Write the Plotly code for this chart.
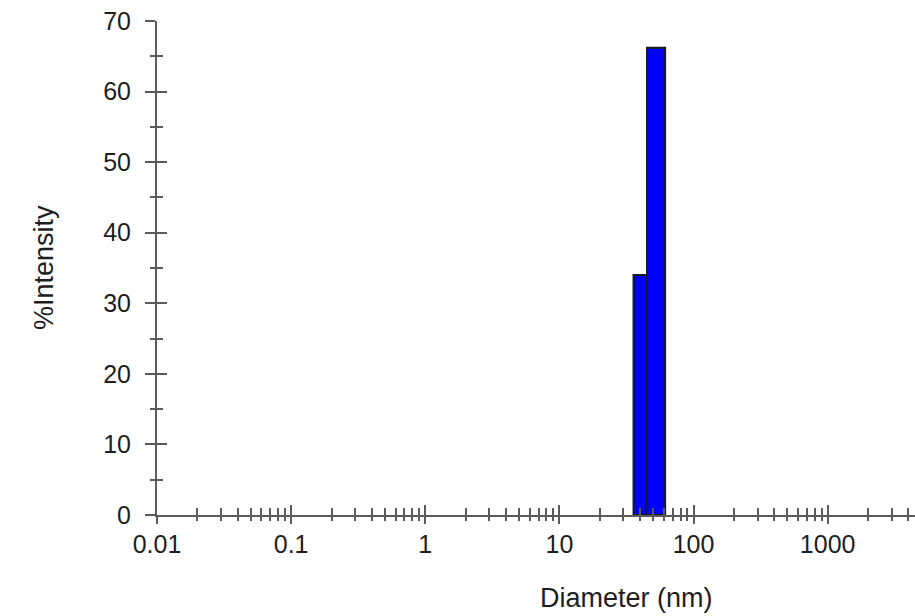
import plotly.graph_objects as go

# Data
bin_left = [35.7, 45.0]      # nm
bin_right = [45.0, 61.4]     # nm
intensity = [34.0, 66.2]     # %

x_tickvals = [0.01, 0.1, 1, 10, 100, 1000]
x_ticktext = ["0.01", "0.1", "1", "10", "100", "1000"]
y_tickvals = [0, 10, 20, 30, 40, 50, 60, 70]

FONT = "Liberation Sans, Arial, sans-serif"
TXT = "#1e1e1e"
AX = "#5a5a5a"

fig = go.Figure()
for l, r, v in zip(bin_left, bin_right, intensity):
    fig.add_trace(go.Scatter(
        x=[l, l, r, r, l], y=[0, v, v, 0, 0],
        mode="lines", fill="toself", fillcolor="#0000FF",
        line=dict(color="#1a1a1a", width=2),
        hoverinfo="skip", showlegend=False,
    ))
# invisible trace to hold the overlay axes (for crossing ticks)
fig.add_trace(go.Scatter(
    x=[bin_left[0]], y=[intensity[0]], xaxis="x2", yaxis="y2",
    mode="markers", marker=dict(opacity=0), hoverinfo="skip", showlegend=False,
))

xr = [-2, 3.651]
fig.update_layout(
    width=915, height=616,
    margin=dict(l=157, r=0, t=21, b=101),
    paper_bgcolor="white", plot_bgcolor="white",
    font=dict(family=FONT, color=TXT, size=25),
    xaxis=dict(
        type="log", range=xr, showgrid=False, zeroline=False,
        showline=True, linecolor=AX, linewidth=2,
        ticks="inside", ticklen=10, tickwidth=2, tickcolor=AX,
        tickvals=x_tickvals, ticktext=x_ticktext,
        tickfont=dict(size=25, family=FONT, color=TXT),
        minor=dict(ticks="inside", ticklen=7, tickwidth=2, tickcolor=AX,
                   dtick="D1", showgrid=False),
        ticklabelstandoff=6, ticklabeloverflow="allow",
    ),
    xaxis2=dict(
        type="log", range=xr, overlaying="x", anchor="y2", side="bottom",
        showgrid=False, zeroline=False, showline=False,
        ticks="outside", ticklen=8, tickwidth=2, tickcolor=AX,
        tickvals=x_tickvals, showticklabels=False,
        minor=dict(ticks="outside", ticklen=5, tickwidth=2, tickcolor=AX,
                   dtick="D1", showgrid=False),
    ),
    yaxis=dict(
        range=[0, 70], showgrid=False, zeroline=False,
        showline=True, linecolor=AX, linewidth=2,
        ticks="outside", ticklen=10, tickwidth=2, tickcolor=AX,
        tickvals=y_tickvals,
        tickfont=dict(size=25, family=FONT, color=TXT),
        minor=dict(ticks="outside", ticklen=5, tickwidth=2, tickcolor=AX,
                   dtick=5, showgrid=False),
        ticklabelstandoff=9, ticklabeloverflow="allow",
    ),
    yaxis2=dict(
        range=[0, 70], overlaying="y", anchor="x2", side="left",
        showgrid=False, zeroline=False, showline=False,
        ticks="inside", ticklen=10, tickwidth=2, tickcolor=AX,
        tickvals=y_tickvals, showticklabels=False,
        minor=dict(ticks="inside", ticklen=6, tickwidth=2, tickcolor=AX,
                   dtick=5, showgrid=False),
    ),
    annotations=[
        dict(text="Diameter (nm)", xref="paper", yref="paper",
             x=0.62, y=-0.168, xanchor="center", yanchor="middle",
             showarrow=False, font=dict(size=27, family=FONT, color=TXT)),
        dict(text="%Intensity", xref="paper", yref="paper",
             x=-0.149, y=0.5, xanchor="center", yanchor="middle", textangle=-90,
             showarrow=False, font=dict(size=27, family=FONT, color=TXT)),
    ],
)

fig.write_html(
    "out.html",
    config={"displayModeBar": False, "staticPlot": True},
    post_script="document.body.style.margin='0px';document.body.style.overflow='hidden';",
)
